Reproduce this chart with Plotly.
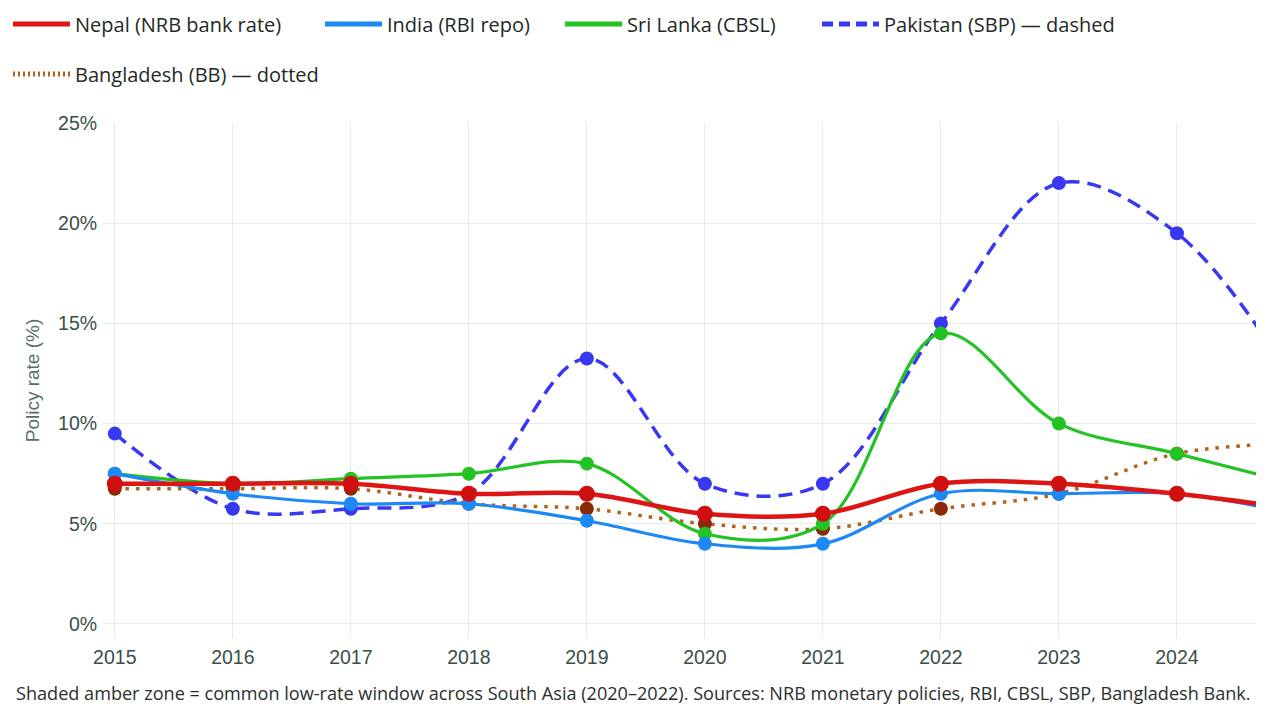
import plotly.graph_objects as go

years = [2015, 2016, 2017, 2018, 2019, 2020, 2021, 2022, 2023, 2024, 2025]
nepal = [7.0, 7.0, 7.0, 6.5, 6.5, 5.5, 5.5, 7.0, 7.0, 6.5, 5.75]
india = [7.5, 6.5, 6.0, 6.0, 5.15, 4.0, 4.0, 6.5, 6.5, 6.5, 5.5]
srilanka = [7.5, 7.0, 7.25, 7.5, 8.0, 4.5, 5.0, 14.5, 10.0, 8.5, 7.0]
pakistan = [9.5, 5.75, 5.75, 6.5, 13.25, 7.0, 7.0, 15.0, 22.0, 19.5, 12.0]
bangladesh = [6.75, 6.75, 6.75, 6.0, 5.75, 5.0, 4.75, 5.75, 6.5, 8.5, 9.0]

names = ["Nepal (NRB bank rate)", "India (RBI repo)", "Sri Lanka (CBSL)",
         "Pakistan (SBP) \u2014 dashed", "Bangladesh (BB) \u2014 dotted"]
tick_years = [2015, 2016, 2017, 2018, 2019, 2020, 2021, 2022, 2023, 2024]
y_ticks = [0, 5, 10, 15, 20, 25]
caption = ("Shaded amber zone = common low-rate window across South Asia (2020\u20132022). "
           "Sources: NRB monetary policies, RBI, CBSL, SBP, Bangladesh Bank.")

SANS = "Open Sans, Noto Sans, sans-serif"
ARIAL = "Liberation Sans, Arial, sans-serif"
# page body has an 8px margin; figure sized to fit the 1264x721 window
W, H = 1248, 705
L, R, T, B = 95, 0, 115, 75

C_NEP, C_NEP_M = "#dd1515", "#d01010"
C_IND = "#1e88f5"
C_SRI = "#22c322"
C_PAK = "#3838f0"
C_BAN, C_BAN_M = "#b3621b", "#8a2a08"
PAK_DASH = "14px,8px"
BAN_DOT = "3.5px,7px"

fig = go.Figure()
# data traces, drawing order (bottom -> top): Pakistan, Bangladesh, Sri Lanka, India, Nepal
fig.add_trace(go.Scatter(x=years, y=pakistan, name=names[3], mode="lines+markers", showlegend=False,
                         line=dict(color=C_PAK, width=3.5, dash=PAK_DASH, shape="spline"),
                         marker=dict(size=14, color=C_PAK)))
fig.add_trace(go.Scatter(x=years, y=bangladesh, name=names[4], mode="lines+markers", showlegend=False,
                         line=dict(color=C_BAN, width=3.5, dash=BAN_DOT, shape="spline"),
                         marker=dict(size=14, color=C_BAN_M)))
fig.add_trace(go.Scatter(x=years, y=srilanka, name=names[2], mode="lines+markers", showlegend=False,
                         line=dict(color=C_SRI, width=3.2, shape="spline"),
                         marker=dict(size=14, color=C_SRI)))
fig.add_trace(go.Scatter(x=years, y=india, name=names[1], mode="lines+markers", showlegend=False,
                         line=dict(color=C_IND, width=3.2, shape="spline"),
                         marker=dict(size=14, color=C_IND)))
fig.add_trace(go.Scatter(x=years, y=nepal, name=names[0], mode="lines+markers", showlegend=False,
                         line=dict(color=C_NEP, width=4.5, shape="spline"),
                         marker=dict(size=16, color=C_NEP_M)))

# legend-only entries (line symbols without markers)
leg_specs = [
    (names[0], C_NEP, "solid", "legend", 240),
    (names[1], C_IND, "solid", "legend", 168),
    (names[2], C_SRI, "solid", "legend", 185),
    (names[3], C_PAK, "11px,6px", "legend", 240),
    (names[4], C_BAN, "2px,3px", "legend2", None),
]
for nm, col, dsh, lg, lw in leg_specs:
    kw = dict(legendwidth=lw) if lw else {}
    fig.add_trace(go.Scatter(x=[None], y=[None], name=nm, mode="lines",
                             line=dict(color=col, width=5, dash=dsh),
                             legend=lg, hoverinfo="skip", **kw))

grid = "#e4ecec"
leg_font = dict(family=SANS, size=20, color="#1e2a26")
fig.update_layout(
    width=W, height=H,
    margin=dict(l=L, r=R, t=T, b=B),
    paper_bgcolor="white", plot_bgcolor="white",
    font=dict(family=SANS, size=16, color="#33403c"),
    showlegend=True,
    legend=dict(orientation="h", xref="container", yref="container",
                x=0 / W, y=1 - 16 / H, xanchor="left", yanchor="middle",
                font=leg_font, itemwidth=57, bgcolor="rgba(0,0,0,0)", traceorder="normal"),
    legend2=dict(orientation="h", xref="container", yref="container",
                 x=0 / W, y=1 - 66 / H, xanchor="left", yanchor="middle",
                 font=leg_font, itemwidth=57, bgcolor="rgba(0,0,0,0)"),
    xaxis=dict(range=[2014.9, 2024.67], tickvals=tick_years, ticktext=[str(v) for v in tick_years],
               showgrid=True, gridcolor=grid, gridwidth=1, zeroline=False, showline=False,
               tickfont=dict(family=ARIAL, size=19.5, color="#3a4f47"),
               ticks="outside", ticklen=2, tickcolor="rgba(0,0,0,0)"),
    yaxis=dict(range=[-0.7, 25], tickvals=y_ticks, ticktext=[f"{v}%" for v in y_ticks],
               showgrid=True, gridcolor=grid, gridwidth=1, zeroline=False, showline=False,
               tickfont=dict(family=ARIAL, size=19.5, color="#3a4f47"),
               ticks="outside", ticklen=1, tickcolor="rgba(0,0,0,0)",
               title=dict(text="Policy rate (%)", font=dict(family=ARIAL, size=19, color="#55706a"),
                          standoff=13)),
    annotations=[dict(text=caption, xref="paper", yref="paper",
                      x=(6 - L) / (W - L - R), y=(H - B - 685) / (H - T - B),
                      xanchor="left", yanchor="middle", showarrow=False,
                      font=dict(family=SANS, size=18.1, color="#2a2f2d"))],
)

fig.write_html("out.html")
